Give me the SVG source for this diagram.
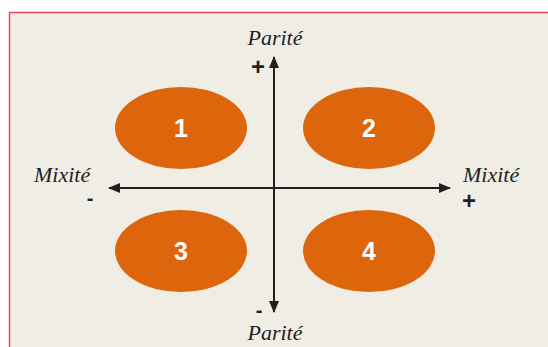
<svg xmlns="http://www.w3.org/2000/svg" width="548" height="347" viewBox="0 0 548 347">
<style>
.lbl{font-family:"Liberation Serif",serif;font-style:italic;font-size:22px;fill:#231f20}
.sign{font-family:"Liberation Sans",sans-serif;font-weight:bold;font-size:24px;fill:#231f20;text-anchor:middle}
.minus{font-family:"Liberation Sans",sans-serif;font-weight:bold;font-size:20px;fill:#231f20;text-anchor:middle}
.num{font-family:"Liberation Sans",sans-serif;font-weight:bold;font-size:25px;fill:#ffffff;text-anchor:middle}
.ell{fill:#dd650c}
.ax{stroke:#231f20;stroke-width:2;fill:none}
</style>
<defs>
<marker id="ah" viewBox="0 0 12 10" refX="11" refY="5" markerWidth="12" markerHeight="10" markerUnits="userSpaceOnUse" orient="auto">
<path d="M0,0 L12,5 L0,10 Z" fill="#231f20"/>
</marker>
</defs>
<rect x="9.5" y="12.5" width="545" height="340" fill="#f0ede5" stroke="#e34b5e" stroke-width="1.5"/>
<g id="connectors">
<line class="ax" x1="274" y1="188" x2="274" y2="57" marker-end="url(#ah)"/>
<line class="ax" x1="274" y1="188" x2="274" y2="312" marker-end="url(#ah)"/>
<line class="ax" x1="274" y1="188" x2="109" y2="188" marker-end="url(#ah)"/>
<line class="ax" x1="274" y1="188" x2="450" y2="188" marker-end="url(#ah)"/>
</g>
<g id="n1"><ellipse class="ell" cx="181" cy="128" rx="66" ry="41"/><text class="num" x="181" y="137">1</text></g>
<g id="n2"><ellipse class="ell" cx="369" cy="128" rx="66" ry="41"/><text class="num" x="369" y="137">2</text></g>
<g id="n3"><ellipse class="ell" cx="181" cy="251" rx="66" ry="41"/><text class="num" x="181" y="260">3</text></g>
<g id="n4"><ellipse class="ell" cx="369" cy="251" rx="66" ry="41"/><text class="num" x="369" y="260">4</text></g>
<g id="labels">
<text class="lbl" x="275" y="45" text-anchor="middle">Parité</text>
<text class="sign" x="258" y="75">+</text>
<text class="lbl" x="34" y="182">Mixité</text>
<text class="minus" x="90" y="205">-</text>
<text class="lbl" x="463" y="182">Mixité</text>
<text class="sign" x="469" y="209">+</text>
<text class="minus" x="259" y="317">-</text>
<text class="lbl" x="275" y="340" text-anchor="middle">Parité</text>
</g>
</svg>
